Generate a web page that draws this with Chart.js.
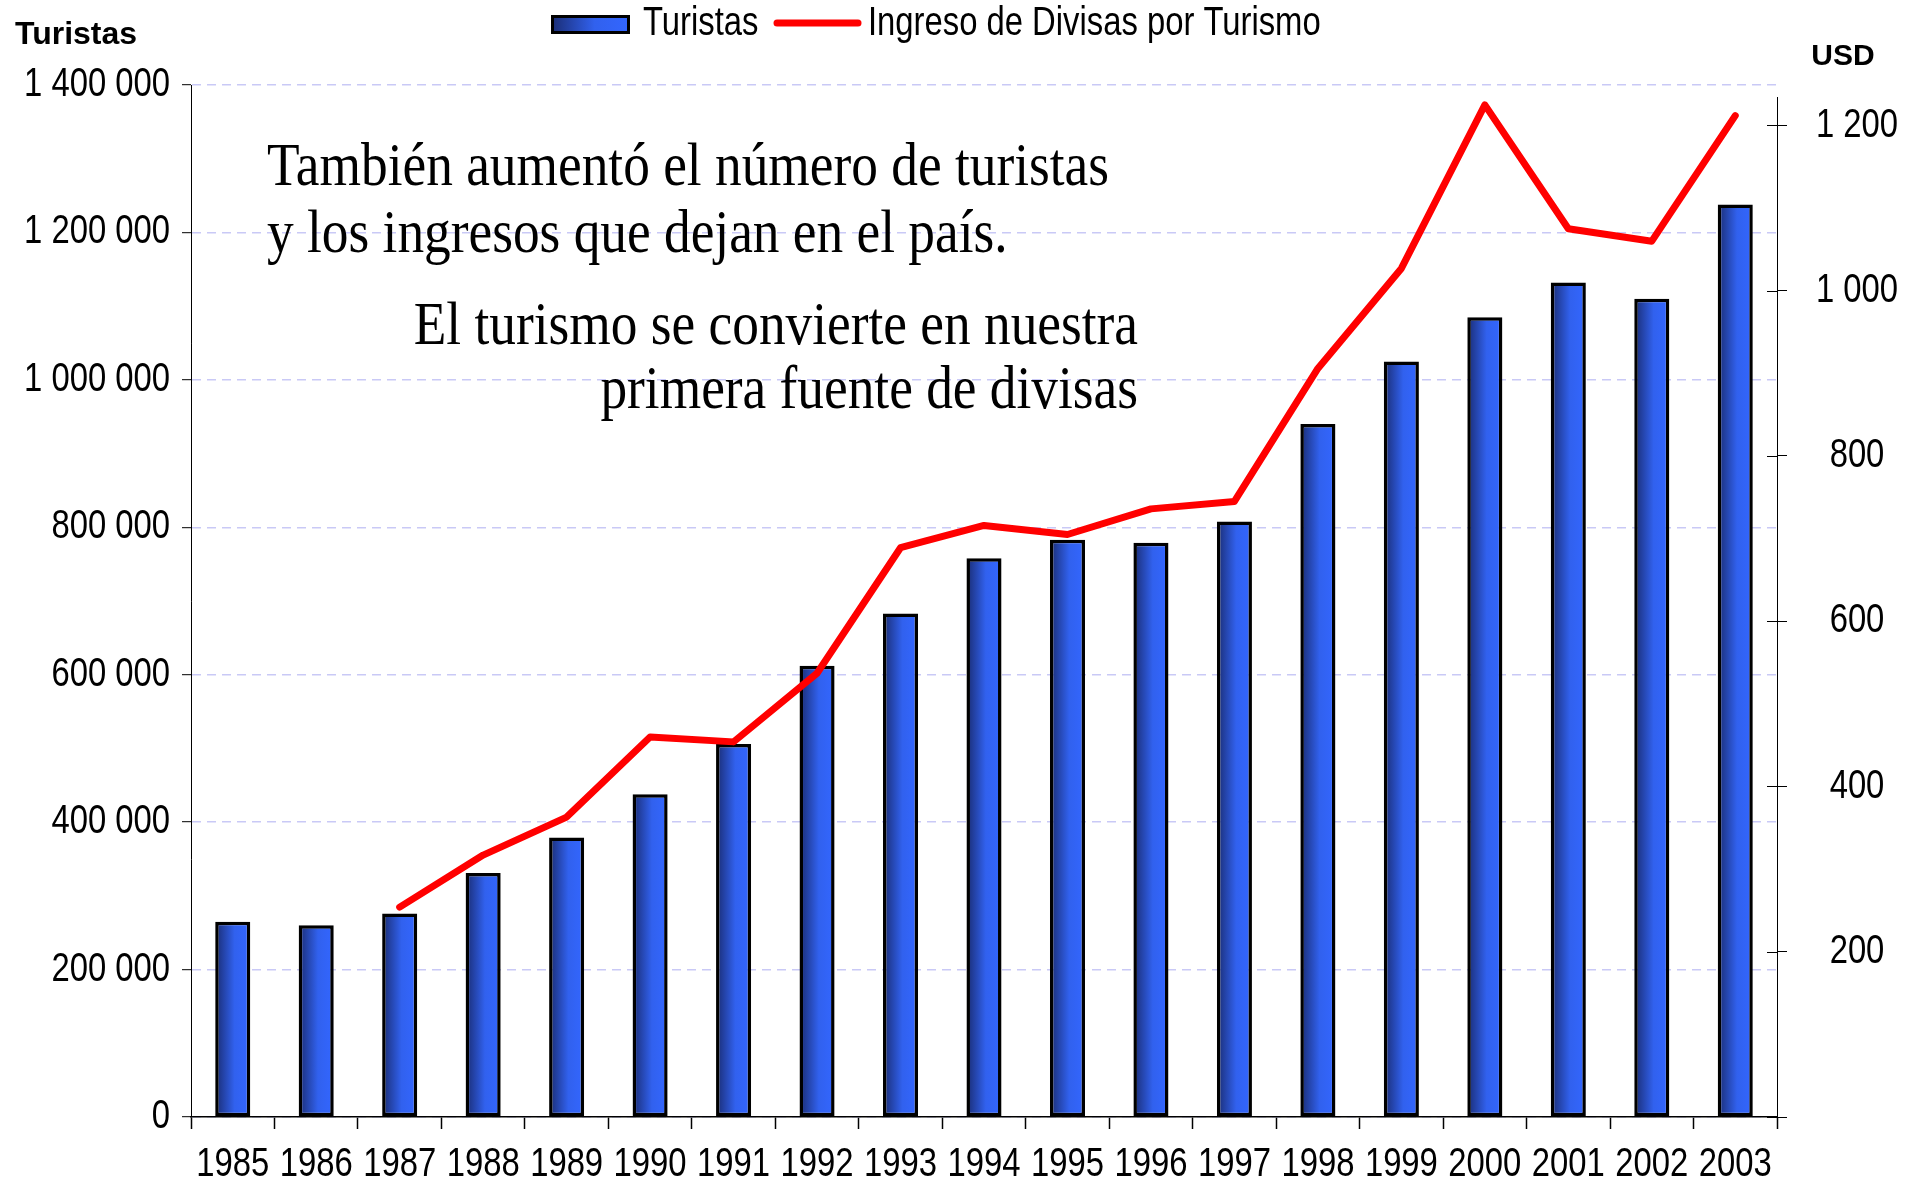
<!DOCTYPE html>
<html>
<head>
<meta charset="utf-8">
<script src="https://cdn.jsdelivr.net/npm/chart.js@4.4.0/dist/chart.umd.min.js"></script>
<style>
html,body{margin:0;padding:0;background:#fff;}
#wrap{width:1906px;height:1182px;position:relative;}
</style>
</head>
<body>
<div id="wrap"><canvas id="c" width="1906" height="1182"></canvas></div>
<script>
// ---- data ----
const years = ['1985','1986','1987','1988','1989','1990','1991','1992','1993','1994','1995','1996','1997','1998','1999','2000','2001','2002','2003'];
const touristCounts = [265000,260000,276000,331000,379000,438000,506000,612000,683000,758000,783000,779000,808000,940000,1025000,1085000,1132000,1110000,1238000];
const tourismIncomeUSD = [null,null,254,317,363,460,454,537,689,716,705,736,745,906,1027,1225,1075,1060,1212];
const leftTicks = [0,200000,400000,600000,800000,1000000,1200000,1400000];
const rightTicks = [0,200,400,600,800,1000,1200];
const seriesNames = ['Turistas','Ingreso de Divisas por Turismo'];
const leftAxisTitle = 'Turistas';
const rightAxisTitle = 'USD';
const noteLines = [
  {text:'También aumentó el número de turistas', x:267, y:185, align:'left'},
  {text:'y los ingresos que dejan en el país.', x:267, y:252, align:'left'},
  {text:'El turismo se convierte en nuestra', x:1138, y:344, align:'right'},
  {text:'primera fuente de divisas', x:1138, y:408, align:'right'}
];

// ---- styling helpers ----
const LAB_FONT = '40px "Liberation Sans", Arial, sans-serif';
const LAB_SX = 0.82;   // horizontally condensed look of the original
function fmtSpace(n){ return String(n).replace(/\B(?=(\d{3})+(?!\d))/g, ' '); }
function scaledText(ctx, text, x, y, sx, align){
  ctx.save(); ctx.translate(x, y); ctx.scale(sx, 1); ctx.textAlign = align; ctx.fillText(text, 0, 0); ctx.restore();
}
function barGradient(ctx, x0, x1){
  const g = ctx.createLinearGradient(x0, 0, x1, 0);
  g.addColorStop(0, '#1a2c72');
  g.addColorStop(0.55, '#3161ee');
  g.addColorStop(1, '#3366ff');
  return g;
}
const BAR_PCT = 0.42;

const decor = {
  id: 'decor',
  afterDraw(chart){
    const ctx = chart.ctx, ca = chart.chartArea;
    const xs = chart.scales.x, ys = chart.scales.y, y1 = chart.scales.y1;
    ctx.save();
    // right axis line (starts a little below the plot top, as in the original)
    ctx.strokeStyle = '#000'; ctx.lineWidth = 1;
    const rx = Math.round(ca.right) + 0.5;
    ctx.beginPath(); ctx.moveTo(rx, ca.top + 12); ctx.lineTo(rx, ca.bottom); ctx.stroke();
    // inner tick marks on right axis
    y1.ticks.forEach((t, i) => {
      const y = Math.round(y1.getPixelForTick(i)) + 0.5;
      ctx.beginPath(); ctx.moveTo(ca.right - 10, y); ctx.lineTo(ca.right, y); ctx.stroke();
    });
    // tick labels (from the scales' own ticks and pixels)
    ctx.fillStyle = '#000';
    ctx.font = LAB_FONT;
    ctx.textBaseline = 'middle';
    xs.ticks.forEach((t, i) => {
      scaledText(ctx, xs.getLabelForValue(t.value), xs.getPixelForTick(i), xs.top + 48, LAB_SX, 'center');
    });
    ys.ticks.forEach((t, i) => {
      scaledText(ctx, fmtSpace(t.value), ys.right - 21, ys.getPixelForTick(i), LAB_SX, 'right');
    });
    y1.ticks.forEach((t, i) => {
      if (t.value === 0) return;
      scaledText(ctx, fmtSpace(t.value), y1.left + 80, y1.getPixelForTick(i), LAB_SX, 'center');
    });
    // axis titles
    ctx.font = 'bold 32px "Liberation Sans", Arial, sans-serif';
    ctx.textAlign = 'left';
    ctx.fillText(leftAxisTitle, 15, 35);
    ctx.font = 'bold 30px "Liberation Sans", Arial, sans-serif';
    ctx.textAlign = 'center';
    ctx.fillText(rightAxisTitle, 1843, 57);
    // legend
    const bx = 551, by = 15, bw = 79, bh = 19;
    ctx.fillStyle = barGradient(ctx, bx, bx + bw);
    ctx.fillRect(bx, by, bw, bh);
    ctx.lineWidth = 3; ctx.strokeStyle = '#000';
    ctx.strokeRect(bx + 1.5, by + 1.5, bw - 3, bh - 3);
    ctx.fillStyle = '#000';
    ctx.font = LAB_FONT;
    ctx.textBaseline = 'middle';
    scaledText(ctx, seriesNames[0], 643, 24, LAB_SX, 'left');
    ctx.strokeStyle = '#ff0000'; ctx.lineWidth = 7; ctx.lineCap = 'round';
    ctx.beginPath(); ctx.moveTo(777, 23); ctx.lineTo(858, 23); ctx.stroke();
    scaledText(ctx, seriesNames[1], 868, 24, LAB_SX, 'left');
    // annotations
    ctx.font = '62px "Liberation Serif", "Times New Roman", serif';
    ctx.textBaseline = 'alphabetic';
    const sx = 842 / ctx.measureText(noteLines[0].text).width;
    noteLines.forEach(n => scaledText(ctx, n.text, n.x, n.y, sx, n.align));
    ctx.restore();
  }
};

const hiddenTicks = { color: 'rgba(0,0,0,0)', font: { size: 40 } };

const chart = new Chart(document.getElementById('c'), {
  data: {
    labels: years,
    datasets: [
      {
        type: 'line',
        label: seriesNames[1],
        data: tourismIncomeUSD,
        yAxisID: 'y1',
        borderColor: '#ff0000',
        borderWidth: 7,
        pointRadius: 0,
        pointHoverRadius: 0,
        tension: 0,
        borderCapStyle: 'round',
        borderJoinStyle: 'round',
        spanGaps: false,
        order: 0
      },
      {
        type: 'bar',
        label: seriesNames[0],
        data: touristCounts,
        yAxisID: 'y',
        borderColor: '#000',
        borderWidth: 3.5,
        borderSkipped: false,
        categoryPercentage: 1,
        barPercentage: BAR_PCT,
        backgroundColor: (c) => {
          const ch = c.chart, xs = ch.scales.x;
          if (!xs || !ch.chartArea || c.dataIndex === undefined) return '#3366ff';
          const cx = xs.getPixelForTick(c.dataIndex);
          const half = xs.width / years.length * BAR_PCT / 2;
          return barGradient(ch.ctx, cx - half, cx + half);
        },
        order: 1
      }
    ]
  },
  options: {
    responsive: false,
    animation: false,
    devicePixelRatio: 1,
    layout: { padding: { top: 85, left: 0, right: 0, bottom: 0 } },
    plugins: { legend: { display: false }, tooltip: { enabled: false }, title: { display: false } },
    scales: {
      x: {
        type: 'category',
        offset: true,
        grid: { offset: true, drawOnChartArea: false, drawTicks: true, tickLength: 12, tickColor: '#000', tickWidth: 1.5, color: '#000' },
        border: { display: true, color: '#000', width: 1.5 },
        ticks: Object.assign({ maxRotation: 0, autoSkip: false, padding: 12 }, hiddenTicks),
        afterFit: (s) => { s.height = 65; }
      },
      y: {
        position: 'left',
        min: 0, max: 1400000,
        afterBuildTicks: (s) => { s.ticks = leftTicks.map(v => ({ value: v })); },
        grid: { color: '#c9c9f6', lineWidth: 1.4, drawTicks: true, tickLength: 9, tickColor: '#000', tickWidth: 1, tickBorderDash: [] },
        border: { display: true, color: '#000', width: 1, dash: [9, 6] },
        ticks: Object.assign({ padding: 12, callback: (v) => fmtSpace(v) }, hiddenTicks),
        afterFit: (s) => { s.width = 191; }
      },
      y1: {
        position: 'right',
        min: 0, max: 1249,
        afterBuildTicks: (s) => { s.ticks = rightTicks.map(v => ({ value: v })); },
        grid: { drawOnChartArea: false, drawTicks: true, tickLength: 10, tickColor: '#000', tickWidth: 1 },
        border: { display: false },
        ticks: Object.assign({ padding: 29, callback: (v) => v === 0 ? '' : fmtSpace(v) }, hiddenTicks),
        afterFit: (s) => { s.width = 129; }
      }
    }
  },
  plugins: [decor]
});
</script>
</body>
</html>
